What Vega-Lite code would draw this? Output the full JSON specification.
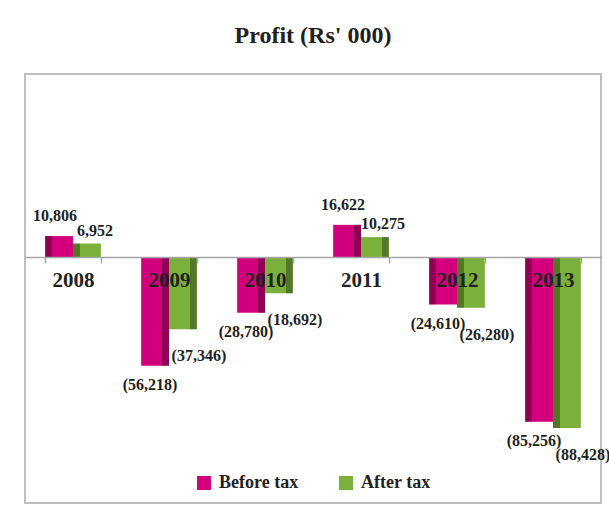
{
  "$schema": "https://vega.github.io/schema/vega-lite/v6.json",
  "width": 576,
  "height": 429,
  "autosize": {"type": "none"},
  "padding": {"left": 25, "top": 74, "right": 8, "bottom": 8},
  "background": "white",
  "config": {"view": {"stroke": "#BFBFC2", "strokeWidth": 2}},
  "title": {"text": "Profit (Rs' 000)", "font": "Liberation Serif", "fontSize": 24, "fontWeight": "bold", "color": "#231F20", "anchor": "middle", "offset": 26},
  "data": {"values": [
    {"year": "2008", "series": "Before tax", "value": 10806},
    {"year": "2008", "series": "After tax", "value": 6952},
    {"year": "2009", "series": "Before tax", "value": -56218},
    {"year": "2009", "series": "After tax", "value": -37346},
    {"year": "2010", "series": "Before tax", "value": -28780},
    {"year": "2010", "series": "After tax", "value": -18692},
    {"year": "2011", "series": "Before tax", "value": 16622},
    {"year": "2011", "series": "After tax", "value": 10275},
    {"year": "2012", "series": "Before tax", "value": -24610},
    {"year": "2012", "series": "After tax", "value": -26280},
    {"year": "2013", "series": "Before tax", "value": -85256},
    {"year": "2013", "series": "After tax", "value": -88428}
  ]},
  "transform": [
    {"calculate": "datum.value < 0 ? '(' + format(-datum.value, ',') + ')' : format(datum.value, ',')", "as": "label"}
  ],
  "encoding": {
    "x": {
      "field": "year", "type": "nominal",
      "scale": {"paddingInner": 0.42, "paddingOuter": 0.21},
      "axis": {
        "title": null, "orient": "bottom", "offset": -246, "zindex": 1,
        "domainColor": "#A6A6A6", "domainWidth": 1.5,
        "tickColor": "#A6A6A6", "tickSize": 6, "tickWidth": 1.5, "tickBand": "extent",
        "labelFont": "Liberation Serif", "labelFontSize": 21, "labelFontWeight": "bold",
        "labelColor": "#231F20", "labelAngle": 0, "labelPadding": 6
      }
    },
    "xOffset": {"field": "series", "type": "nominal", "sort": ["Before tax", "After tax"]},
    "y": {"field": "value", "type": "quantitative", "scale": {"domain": [-127200, 94600], "nice": false, "zero": false}, "axis": null}
  },
  "layer": [
    {
      "mark": {"type": "bar"},
      "encoding": {
        "color": {
          "field": "series", "type": "nominal", "sort": ["Before tax", "After tax"],
          "scale": {"domain": ["Before tax", "After tax"], "range": ["#D3007E", "#7BB13A"]},
          "legend": {
            "title": null, "orient": "none", "legendX": 170, "legendY": 400,
            "direction": "horizontal", "symbolType": "square", "symbolSize": 196,
            "symbolStrokeWidth": 0, "labelFont": "Liberation Serif", "labelFontSize": 18,
            "labelFontWeight": "bold", "labelColor": "#231F20", "labelOffset": 6,
            "columnPadding": 38
          }
        }
      }
    },
    {
      "transform": [{"filter": "datum.year == '2008' || datum.year == '2012' || datum.year == '2013'"}],
      "mark": {"type": "bar", "fill": {"gradient": "linear", "x1": 0, "y1": 0, "x2": 1, "y2": 0, "stops": [
        {"offset": 0, "color": "rgba(0,0,0,0.33)"},
        {"offset": 0.25, "color": "rgba(0,0,0,0.33)"},
        {"offset": 0.251, "color": "rgba(0,0,0,0)"},
        {"offset": 1, "color": "rgba(0,0,0,0)"}
      ]}}
    },
    {
      "transform": [{"filter": "datum.year == '2009' || datum.year == '2010' || datum.year == '2011'"}],
      "mark": {"type": "bar", "fill": {"gradient": "linear", "x1": 0, "y1": 0, "x2": 1, "y2": 0, "stops": [
        {"offset": 0, "color": "rgba(0,0,0,0)"},
        {"offset": 0.75, "color": "rgba(0,0,0,0)"},
        {"offset": 0.751, "color": "rgba(0,0,0,0.33)"},
        {"offset": 1, "color": "rgba(0,0,0,0.33)"}
      ]}}
    },
    {
      "transform": [{"filter": "datum.series == 'Before tax' && datum.value > 0"}],
      "mark": {"type": "text", "baseline": "bottom", "dy": -12, "dx": -4, "font": "Liberation Serif", "fontSize": 16, "fontWeight": "bold", "fill": "#231F20"},
      "encoding": {"text": {"field": "label"}}
    },
    {
      "transform": [{"filter": "datum.series == 'After tax' && datum.value > 0"}],
      "mark": {"type": "text", "baseline": "bottom", "dy": -5, "dx": 8, "font": "Liberation Serif", "fontSize": 16, "fontWeight": "bold", "fill": "#231F20"},
      "encoding": {"text": {"field": "label"}}
    },
    {
      "transform": [{"filter": "datum.series == 'Before tax' && datum.value < 0"}],
      "mark": {"type": "text", "baseline": "top", "dy": 11, "dx": -5, "font": "Liberation Serif", "fontSize": 16, "fontWeight": "bold", "fill": "#231F20"},
      "encoding": {"text": {"field": "label"}}
    },
    {
      "transform": [{"filter": "datum.series == 'After tax' && datum.value < 0"}],
      "mark": {"type": "text", "baseline": "top", "dy": 19, "dx": 16, "font": "Liberation Serif", "fontSize": 16, "fontWeight": "bold", "fill": "#231F20"},
      "encoding": {"text": {"field": "label"}}
    }
  ]
}
